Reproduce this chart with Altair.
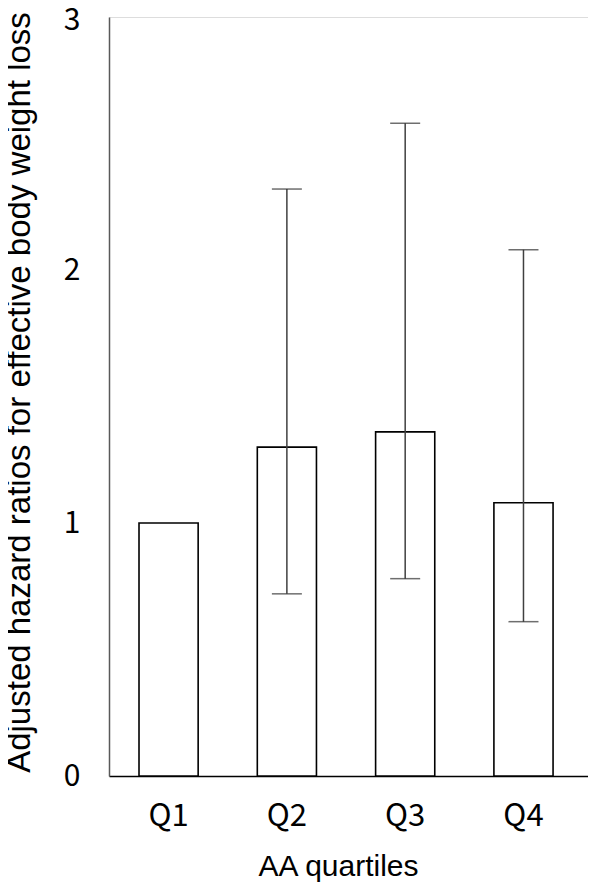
import altair as alt
import pandas as pd

quartiles = ["Q1", "Q2", "Q3", "Q4"]
hazard_ratio = [1.00, 1.30, 1.36, 1.08]
ci_lower = [None, 0.72, 0.78, 0.61]
ci_upper = [None, 2.32, 2.58, 2.08]

df = pd.DataFrame({"q": quartiles, "hr": hazard_ratio, "lo": ci_lower, "hi": ci_upper})

x_scale = alt.Scale(domain=quartiles, paddingInner=0.5, paddingOuter=0.2745, align=0.462)
y_scale = alt.Scale(domain=[0, 3], nice=False, zero=True)

x_enc = alt.X(
    "q:N",
    scale=x_scale,
    sort=quartiles,
    axis=alt.Axis(
        title="AA quartiles",
        labelAngle=0,
        labelFont="Noto Sans CJK JP",
        labelFontSize=31,
        labelColor="#000000",
        labelBaseline="alphabetic",
        labelPadding=49,
        ticks=False,
        domainColor="#000000",
        domainWidth=1.5,
        titleFont="Liberation Sans",
        titleFontSize=30,
        titleFontWeight="normal",
        titleColor="#000000",
        titleX=229,
        titleY=99,
        titleBaseline="alphabetic",
        titleAnchor="start",
        titleAlign="center",
    ),
)

bars = alt.Chart(df).mark_bar(fill="white", stroke="#000000", strokeWidth=1.6).encode(
    x=x_enc,
    y=alt.Y(
        "hr:Q",
        scale=y_scale,
        axis=alt.Axis(
            title="Adjusted hazard ratios for effective body weight loss",
            values=[0, 1, 2, 3],
            format="d",
            grid=False,
            ticks=False,
            labelFont="Noto Sans CJK JP",
            labelFontSize=30,
            labelColor="#000000",
            labelPadding=29,
            labelOffset={"condition": {"test": "datum.value === 3", "value": 3}, "value": 0},
            domainColor="#595959",
            domainWidth=1.5,
            titleFont="Liberation Sans",
            titleFontSize=33,
            titleFontWeight="normal",
            titleColor="#000000",
            titleX=-80,
            titleY=375,
            titleAngle=270,
            titleBaseline="alphabetic",
            titleAlign="center",
        ),
    ),
)

err_df = df.dropna()

rules = alt.Chart(err_df).mark_rule(color="#404040", strokeWidth=1.5).encode(
    x=alt.X("q:N", scale=x_scale, sort=quartiles),
    y=alt.Y("lo:Q", scale=y_scale),
    y2="hi:Q",
)

caps_hi = alt.Chart(err_df).mark_tick(color="#303030", thickness=1.5, size=30).encode(
    x=alt.X("q:N", scale=x_scale, sort=quartiles),
    y=alt.Y("hi:Q", scale=y_scale),
)
caps_lo = alt.Chart(err_df).mark_tick(color="#303030", thickness=1.5, size=30).encode(
    x=alt.X("q:N", scale=x_scale, sort=quartiles),
    y=alt.Y("lo:Q", scale=y_scale),
)

chart = (
    alt.layer(bars, rules, caps_hi, caps_lo)
    .properties(
        width=479,
        height=759,
        autosize=alt.AutoSizeParams(type="none"),
        padding={"left": 101, "top": 9, "right": 0, "bottom": 107},
    )
    .configure_view(stroke=None)
    .configure(background="white")
)

chart.save("out.html", embed_options={"renderer": "svg", "actions": False})
